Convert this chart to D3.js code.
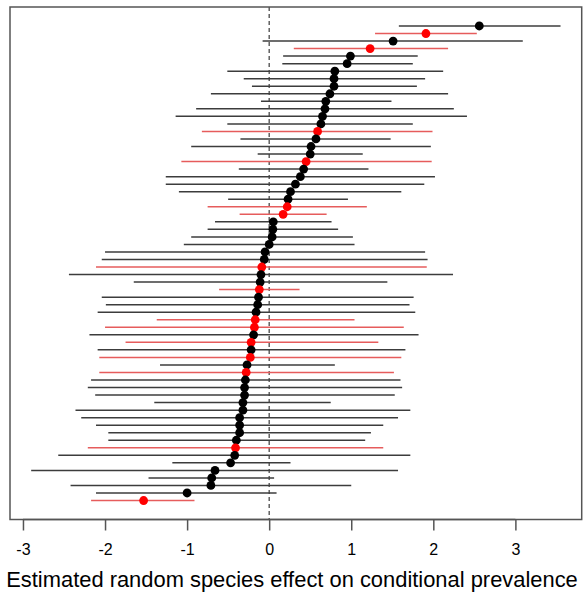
<!DOCTYPE html>
<html>
<head>
<meta charset="utf-8">
<script src="https://cdn.jsdelivr.net/npm/d3@7"></script>
<style>
  html, body { margin: 0; padding: 0; background: #fff; }
  svg { display: block; font-family: "Liberation Sans", Arial, Helvetica, sans-serif; }
</style>
</head>
<body>
<svg id="chart" width="583" height="592"></svg>
<script>
// Species rows, top to bottom
const species = ["s01","s02","s03","s04","s05","s06","s07","s08","s09","s10",
  "s11","s12","s13","s14","s15","s16","s17","s18","s19","s20",
  "s21","s22","s23","s24","s25","s26","s27","s28","s29","s30",
  "s31","s32","s33","s34","s35","s36","s37","s38","s39","s40",
  "s41","s42","s43","s44","s45","s46","s47","s48","s49","s50",
  "s51","s52","s53","s54","s55","s56","s57","s58","s59","s60",
  "s61","s62","s63","s64"];
// Estimated random species effect
const estimate = [2.56,1.91,1.51,1.23,0.99,0.95,0.80,0.79,0.79,0.74,
  0.69,0.68,0.65,0.63,0.59,0.57,0.51,0.50,0.45,0.42,
  0.38,0.32,0.26,0.23,0.22,0.17,0.05,0.045,0.036,0.00,
  -0.05,-0.06,-0.09,-0.10,-0.11,-0.12,-0.13,-0.14,-0.16,-0.17,
  -0.18,-0.19,-0.22,-0.22,-0.23,-0.27,-0.28,-0.29,-0.30,-0.30,
  -0.32,-0.32,-0.36,-0.36,-0.36,-0.40,-0.41,-0.42,-0.47,-0.66,
  -0.70,-0.71,-1.00,-1.53];
// Lower interval bound
const lower = [1.58,1.29,-0.08,0.30,0.17,0.16,-0.51,-0.31,-0.21,-0.71,
  -0.10,-0.89,-1.14,-0.51,-0.82,-0.35,-0.95,-0.14,-1.07,-0.37,
  -1.26,-1.26,-1.10,-0.50,-0.75,-0.36,-0.66,-0.75,-0.95,-1.04,
  -2.00,-2.04,-2.11,-2.44,-1.65,-0.61,-2.04,-1.99,-2.09,-1.37,
  -2.00,-2.19,-1.75,-2.09,-2.07,-1.33,-2.07,-2.17,-2.21,-2.12,
  -1.40,-2.36,-2.29,-2.11,-1.96,-1.96,-2.21,-2.57,-1.18,-2.90,
  -1.47,-2.42,-2.11,-2.17];
// Upper interval bound
const upper = [3.55,2.53,3.09,2.18,1.81,1.75,2.12,1.90,1.80,2.18,
  1.49,2.25,2.41,1.75,1.99,1.48,1.97,1.14,1.98,1.21,
  2.02,1.89,1.61,0.96,1.19,0.70,0.76,0.84,1.02,1.04,
  1.90,1.93,1.92,2.24,1.44,0.37,1.76,1.71,1.78,1.04,
  1.64,1.82,1.33,1.66,1.61,0.80,1.52,1.60,1.62,1.53,
  0.75,1.72,1.57,1.39,1.24,1.17,1.39,1.72,0.26,1.57,
  0.06,1.00,0.09,-0.91];
// Highlight group (1 = red)
const highlight = [0,1,0,1,0,0,0,0,0,0,
  0,0,0,0,1,0,0,0,1,0,
  0,0,0,0,1,1,0,0,0,0,
  0,0,1,0,0,1,0,0,0,1,
  1,0,1,0,1,0,1,0,0,0,
  0,0,0,0,0,0,1,0,0,0,
  0,0,0,1];
const xTicks = [-3, -2, -1, 0, 1, 2, 3];
const xTitle = "Estimated random species effect on conditional prevalence";

const rows = species.map((s, i) => ({
  id: s, est: estimate[i], lo: lower[i], hi: upper[i], red: highlight[i] === 1
}));

const svg = d3.select("#chart");
const box = { left: 10, right: 581.7, top: 7, bottom: 519.5 };

// R-style 4% range extension
const xmin = d3.min(lower), xmax = d3.max(upper);
const xpad = 0.04 * (xmax - xmin);
const x = d3.scaleLinear().domain([xmin - xpad, xmax + xpad]).range([box.left, box.right]);

const n = species.length;
const ypad = 0.04 * (n - 1);
const yIdx = d3.scaleLinear().domain([1 - ypad, n + ypad]).range([box.top, box.bottom]);
const y = d3.scalePoint().domain(species).range([yIdx(1), yIdx(n)]);

// zero reference line
svg.append("line")
  .attr("x1", x(0)).attr("x2", x(0))
  .attr("y1", box.top).attr("y2", box.bottom)
  .attr("stroke", "#3a3a3a").attr("stroke-width", 1.2)
  .attr("stroke-dasharray", "4,3");

// interval lines
svg.append("g").selectAll("line").data(rows).join("line")
  .attr("x1", d => x(d.lo)).attr("x2", d => x(d.hi))
  .attr("y1", d => y(d.id)).attr("y2", d => y(d.id))
  .attr("stroke", d => d.red ? "#e65c5c" : "#3c3c3c")
  .attr("stroke-width", 1.5);

// points
svg.append("g").selectAll("circle").data(rows).join("circle")
  .attr("cx", d => x(d.est)).attr("cy", d => y(d.id))
  .attr("r", 4.4)
  .attr("fill", d => d.red ? "#ff0000" : "#000000");

// box
svg.append("rect")
  .attr("x", box.left).attr("y", box.top)
  .attr("width", box.right - box.left).attr("height", box.bottom - box.top)
  .attr("fill", "none").attr("stroke", "#555").attr("stroke-width", 1.5);

// axis
const axis = d3.axisBottom(x).tickValues(xTicks).tickSize(11).tickPadding(13)
  .tickFormat(d => String(d));
const ag = svg.append("g").attr("transform", `translate(0,${box.bottom})`).call(axis);
ag.select(".domain").attr("stroke", "#555").attr("stroke-width", 1.5)
  .attr("d", `M${x(-3)},0H${x(3)}`);
ag.selectAll(".tick line").attr("stroke", "#555").attr("stroke-width", 1.5);
ag.selectAll(".tick text").attr("fill", "#000").attr("font-size", 16)
  .attr("font-family", "Liberation Sans, Arial, sans-serif");

// axis title
const t = svg.append("text")
  .attr("x", 292).attr("y", 587)
  .attr("text-anchor", "middle").attr("font-size", 20).attr("fill", "#000")
  .text(xTitle);
const w = t.node().getComputedTextLength();
t.attr("font-size", 20 * 572 / w);
</script>
</body>
</html>
